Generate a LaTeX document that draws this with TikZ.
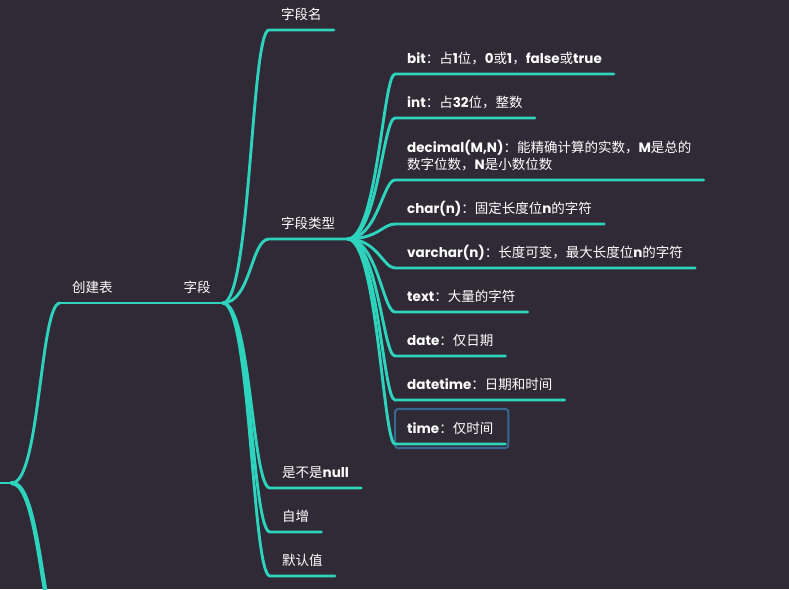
\documentclass[tikz,border=0pt]{standalone}
\usepackage{fontspec}
\setmainfont{Noto Sans CJK SC}
\newfontfamily\enfont{Poppins}
\usetikzlibrary{calc}
\definecolor{bgdark}{RGB}{47,42,53}
\definecolor{mapteal}{RGB}{46,211,190}
\definecolor{selblue}{RGB}{56,104,146}
\newcommand{\en}[1]{{\enfont\bfseries #1}}
\tikzset{
  topic/.style={anchor=south west,inner xsep=12pt,inner ysep=10pt,text depth=0pt,
    text=white,font=\fontsize{13.5}{17}\selectfont},
  branch/.style={draw=mapteal,line width=2.9pt,line cap=round},
}

\begin{document}
\begin{tikzpicture}[x=1pt,y=-1pt]
    \fill[bgdark] (0,0) rectangle (789,589);
    \useasboundingbox (0,0) rectangle (789,589);
    \clip (0,0) rectangle (789,589);
    % root and first level
    \coordinate (rootin) at (-5,483);
    \coordinate (root) at (12,483);
    \coordinate (nextout) at (47,600);
    \node[topic,text width=87pt] (create) at (60,303) {创建表};
    \node[topic] (field) at (create.south east) {字段};
    % children of the field node
    \node[topic] (fname) at (269,30) {字段名};
    \node[topic] (ftype) at (269,239) {字段类型};
    \node[topic] (fnull) at (270,488) {是不是\en{null}};
    \node[topic] (finc) at (270,532) {自增};
    \node[topic] (fdef) at (270,576) {默认值};
    % field types
    \node[topic] (tbit) at (395,74) {\en{bit}：占\en{1}位，\en{0}或\en{1}，\en{false}或\en{true}};
    \node[topic] (tint) at (395,118) {\en{int}：占\en{32}位，整数};
    \node[topic,align=left] (tdec) at (395,180) {\en{decimal(M,N)}：能精确计算的实数，\en{M}是总的\\数字位数，\en{N}是小数位数};
    \node[topic] (tchar) at (395,224) {\en{char(n)}：固定长度位\en{n}的字符};
    \node[topic] (tvarchar) at (395,268) {\en{varchar(n)}：长度可变，最大长度位\en{n}的字符};
    \node[topic] (ttext) at (395,312) {\en{text}：大量的字符};
    \node[topic] (tdate) at (395,356) {\en{date}：仅日期};
    \node[topic] (tdatetime) at (395,400) {\en{datetime}：日期和时间};
    \node[topic] (ttime) at (395,444) {\en{time}：仅时间};
    \draw[selblue,line width=2pt,rounded corners=3pt] ([yshift=-4pt]ttime.south west) rectangle ([xshift=3pt,yshift=35pt]ttime.south east);
    % connectors
    \draw[branch] (rootin) -- (root);
    \draw[branch] (root) .. controls +(28,0) and +(-20,0) .. (create.south west);
    \draw[branch,line width=4.4pt] (root) .. controls +(20,0) and +(-8,-40) .. (nextout);
    \draw[branch] (create.south west) -- (field.south east);
    \foreach \n in {fname,ftype,fnull,finc,fdef}
    {
      \draw[branch] (field.south east) .. controls +(28,0) and +(-18,0) .. (\n.south west) -- (\n.south east);
    }
    \foreach \n in {tbit,tint,tdec,tchar,tvarchar,ttext,tdate,tdatetime,ttime}
    {
      \draw[branch] (ftype.south east) .. controls +(30,0) and +(-12,0) .. (\n.south west) -- (\n.south east);
    }
\end{tikzpicture}
\end{document}
